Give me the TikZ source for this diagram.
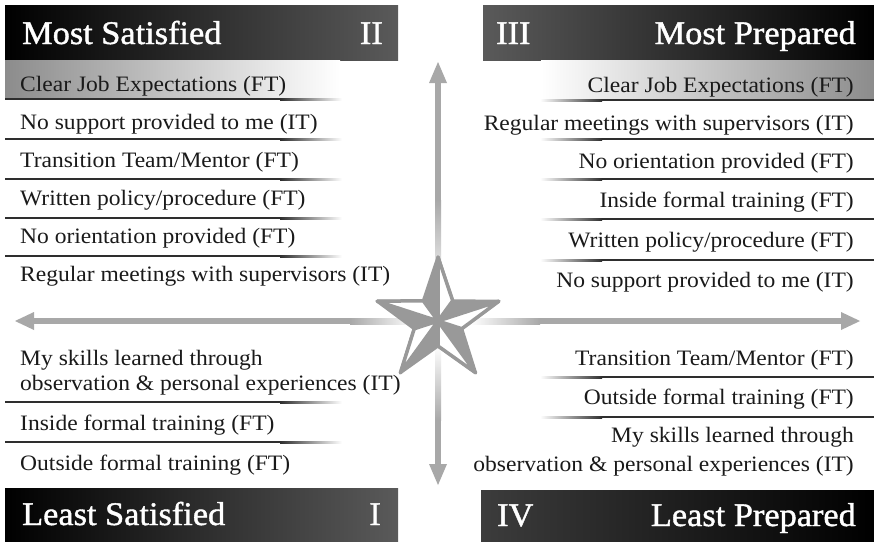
\documentclass[tikz,border=0pt]{standalone}
\usepackage{fontspec}
\setmainfont{Liberation Serif}
\newfontfamily\itemfont{Liberation Serif}[FakeStretch=1.07]
\newfontfamily\titlefont{Liberation Serif}[FakeStretch=1.04, FakeBold=1.2]
\definecolor{ink}{HTML}{1A1A1A}
\definecolor{rulegray}{HTML}{2E2E2E}
\definecolor{axisgray}{HTML}{A8A8A8}
\definecolor{stargray}{HTML}{999999}
\definecolor{bandgray}{HTML}{8C8C8C}
\definecolor{headlight}{HTML}{5A5A5A}
\definecolor{headmid}{HTML}{3C3C3C}

\begin{document}
\begin{tikzpicture}[x=1pt,y=-1pt,
  item/.style={inner sep=0pt, text=ink, font=\itemfont\fontsize{22}{26}\selectfont},
  leftitem/.style={item, anchor=base west},
  rightitem/.style={item, anchor=base east},
  headtext/.style={inner sep=0pt, text=white, font=\titlefont\fontsize{33}{37}\selectfont},
  axisfill/.style={fill=axisgray},
  facet/.style={fill=white, draw=stargray, line width=3.5pt, line join=round},
]
\useasboundingbox (0,0) rectangle (874,541);
\fill[white] (0,0) rectangle (874,541);

% ---- quadrant title bars ----
\shade[left color=black, right color=headlight] (5,5) rectangle (398,60);
\shade[left color=headlight, right color=black] (483,5) rectangle (874,60);
\shade[left color=black, right color=headlight] (5,488) rectangle (398,541);
\shade[left color=headmid, right color=black] (481,490) rectangle (874,541);

% ---- highlighted first rows ----
\shade[left color=bandgray, right color=white] (5,60) rectangle (340,98);
\shade[left color=white, right color=bandgray] (541,60) rectangle (874,98);

% ---- separator rules, fading toward the middle ----
\foreach \y in {99,139,179,218,256,402,442} {
  \fill[rulegray] (5,\y-1) rectangle (280,\y+1);
  \shade[left color=rulegray, right color=white] (280,\y-1) rectangle (342,\y+1);
}
\foreach \y in {100,139,179,219,260,377,417} {
  \shade[left color=white, right color=rulegray] (540,\y-1) rectangle (602,\y+1);
  \fill[rulegray] (602,\y-1) rectangle (874,\y+1);
}

% ---- axes ----
\coordinate (c) at (438,321);
\coordinate (up) at (438,62);
\coordinate (down) at (438,485);
\coordinate (west) at (15,321);
\coordinate (east) at (860,321);
% vertical shafts
\fill[axisfill] (435,82) rectangle (441,200);
\shade[top color=axisgray, bottom color=white] (435,200) rectangle (441,300);
\shade[top color=white, bottom color=axisgray] (435,345) rectangle (441,420);
\fill[axisfill] (435,420) rectangle (441,466);
% horizontal shafts
\fill[axisfill] (32,318) rectangle (350,324);
\shade[left color=axisgray, right color=white] (350,318) rectangle (415,324);
\shade[left color=white, right color=axisgray] (470,318) rectangle (540,324);
\fill[axisfill] (540,318) rectangle (843,324);
% arrow heads
\fill[axisfill] (up) -- ++(-9,21) -- ++(18,0) -- cycle;
\fill[axisfill] (down) -- ++(-9,-21) -- ++(18,0) -- cycle;
\fill[axisfill] (west) -- ++(19,-9) -- ++(0,18) -- cycle;
\fill[axisfill] (east) -- ++(-19,-9) -- ++(0,18) -- cycle;

% ---- central star ----
\begin{scope}[shift={(c)}, yscale=-1]
  \fill[stargray, draw=stargray, line width=3pt, line join=round]
    (90:64) -- (126:25) -- (162:64) -- (198:25) -- (234:64) -- (270:25)
    -- (306:64) -- (342:25) -- (18:64) -- (54:25) -- cycle;
  \foreach \a in {90,162,234,306,378} {
    \filldraw[facet] (0,0) -- (\a:64) -- (\a-36:25) -- cycle;
  }
\end{scope}

% ---- titles ----
\node[headtext, anchor=base west] (t2) at (22,44) {Most Satisfied};
\node[headtext, anchor=base east] (n2) at (383,44) {II};
\node[headtext, anchor=base west] (n3) at (496,44) {III};
\node[headtext, anchor=base east] (t3) at (856,44) {Most Prepared};
\node[headtext, anchor=base west] (t1) at (22,525) {Least Satisfied};
\node[headtext, anchor=base east] (n1) at (381,525) {I};
\node[headtext, anchor=base west] (n4) at (497,526) {IV};
\node[headtext, anchor=base east] (t4) at (856,526) {Least Prepared};

% ---- quadrant II (top left) ----
\node[leftitem] (l1) at (20,91) {Clear Job Expectations (FT)};
\node[leftitem] (l2) at (20,129) {No support provided to me (IT)};
\node[leftitem] (l3) at (20,167) {Transition Team/Mentor (FT)};
\node[leftitem] (l4) at (20,205) {Written policy/procedure (FT)};
\node[leftitem] (l5) at (20,243) {No orientation provided (FT)};
\node[leftitem] (l6) at (20,281) {Regular meetings with supervisors (IT)};

% ---- quadrant I (bottom left) ----
\node[leftitem] (l7a) at (20,365) {My skills learned through};
\node[leftitem] (l7b) at (20,390) {observation \& personal experiences (IT)};
\node[leftitem] (l8) at (20,430) {Inside formal training (FT)};
\node[leftitem] (l9) at (20,470) {Outside formal training (FT)};

% ---- quadrant III (top right) ----
\node[rightitem] (r1) at (854,92) {Clear Job Expectations (FT)};
\node[rightitem] (r2) at (854,130) {Regular meetings with supervisors (IT)};
\node[rightitem] (r3) at (854,168) {No orientation provided (FT)};
\node[rightitem] (r4) at (854,207) {Inside formal training (FT)};
\node[rightitem] (r5) at (854,247) {Written policy/procedure (FT)};
\node[rightitem] (r6) at (854,287) {No support provided to me (IT)};

% ---- quadrant IV (bottom right) ----
\node[rightitem] (r7) at (854,365) {Transition Team/Mentor (FT)};
\node[rightitem] (r8) at (854,404) {Outside formal training (FT)};
\node[rightitem] (r9a) at (854,442) {My skills learned through};
\node[rightitem] (r9b) at (854,471) {observation \& personal experiences (IT)};
\end{tikzpicture}
\end{document}
